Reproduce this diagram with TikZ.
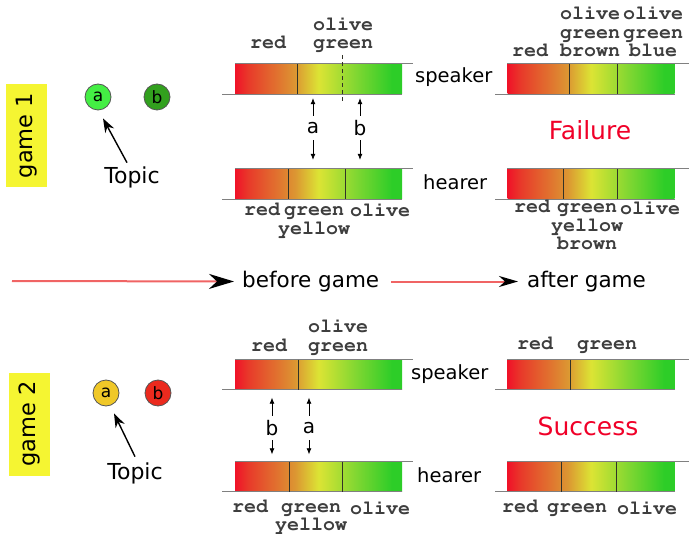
\documentclass[tikz,border=0pt]{standalone}
\usepackage{fontspec}
\usepackage[T1,TU]{fontenc}
\setmainfont{DejaVu Sans}
\usetikzlibrary{arrows.meta}
\newcommand\courierface{\fontencoding{T1}\fontfamily{pcr}\fontseries{b}\selectfont}
\definecolor{spRed}{RGB}{240,18,40}
\definecolor{spRedB}{RGB}{232,58,42}
\definecolor{spOrange}{RGB}{220,150,50}
\definecolor{spYellow}{RGB}{220,228,52}
\definecolor{spLime}{RGB}{130,215,50}
\definecolor{spGreen}{RGB}{45,205,40}
\definecolor{rimgray}{RGB}{128,128,128}
\definecolor{cutgray}{RGB}{50,50,40}
\definecolor{verdictred}{RGB}{240,0,40}
\definecolor{gameyellow}{RGB}{245,245,50}
\definecolor{objgray}{RGB}{85,85,85}
\definecolor{objLime}{RGB}{68,238,68}
\definecolor{objGreen}{RGB}{50,160,30}
\definecolor{objGold}{RGB}{240,200,40}
\definecolor{objRed}{RGB}{235,42,30}
\definecolor{lineRed}{RGB}{240,100,100}
\definecolor{wordgray}{RGB}{62,62,62}
\pgfdeclarehorizontalshading{spectrum}{100bp}{color(0bp)=(spRed); color(25bp)=(spRed);
  color(29bp)=(spRedB); color(43bp)=(spOrange); color(50bp)=(spYellow);
  color(61bp)=(spLime); color(72bp)=(spGreen); color(100bp)=(spGreen)}

\begin{document}
\begin{tikzpicture}[x=1pt, y=-1pt,
    bar/.style={rectangle, shade, shading=spectrum, minimum width=167pt, minimum height=30pt, inner sep=0pt},
    rim/.style={draw=rimgray, line width=1.2pt},
    cut/.style={draw=cutgray, line width=0.9pt},
    word/.style={font=\courierface\fontsize{20}{18.5}\selectfont, text=wordgray, align=center, inner sep=0pt, anchor=base},
    role/.style={font=\fontsize{19.5}{22}\selectfont, inner sep=0pt, anchor=base west},
    verdict/.style={font=\fontsize{25}{28}\selectfont, text=verdictred},
    gamebox/.style={rectangle, fill=gameyellow, rotate=90, minimum width=103pt, minimum height=41pt, inner sep=0pt, font=\fontsize{22.5}{26}\selectfont},
    obj/.style={circle, draw=objgray, line width=0.8pt, minimum size=26pt, inner sep=0pt, font=\fontsize{17}{20}\selectfont},
    topic/.style={font=\fontsize{22}{26}\selectfont, inner sep=0pt},
    pointer/.style={-{Stealth[length=14pt,width=10pt]}, line width=1.4pt},
    pick/.style={-{Latex[length=6pt,width=5pt]}, line width=0.7pt},
    pickname/.style={font=\fontsize{20}{22}\selectfont, minimum height=24pt, inner sep=0pt},
    timeline/.style={draw=lineRed, line width=2pt},
    stage/.style={font=\fontsize{21.5}{24}\selectfont, inner sep=0pt, anchor=west}
]
    \useasboundingbox (0,0) rectangle (695,534);

    % Game 1: objects and topic
    \node[gamebox] (game1) at (26.5,135.5) {game 1};
    \node[obj, fill=objLime] (ca1) at (98,97) {a};
    \node[obj, fill=objGreen] (cb1) at (157,97) {b};
    \node[topic] (topic1) at (132,177) {Topic};
    \draw[pointer] ([xshift=-5pt,yshift=3.5pt]topic1.north) -- ([xshift=5pt,yshift=-8pt]ca1.south);

    % Game 1: bars
    \node[bar] (spk1pre) at (318.5,79) {};
    \node[bar] (hr1pre) at (318.5,184) {};
    \node[bar] (spk1post) at (591,79) {};
    \node[bar] (hr1post) at (591,184) {};
    \draw[rim] (spk1pre.north west) -- ++(178,0);
    \draw[rim] (spk1pre.south east) -- ++(-180,0);
    \draw[rim] (hr1pre.north west) -- ++(178,0);
    \draw[rim] (hr1pre.south east) -- ++(-180,0);
    \draw[rim] (spk1post.north west) -- ++(182,0);
    \draw[rim] (spk1post.south east) -- ++(-180,0);
    \draw[rim] (hr1post.north west) -- ++(182,0);
    \draw[rim] (hr1post.south east) -- ++(-180,0);
    \draw[cut] (297,64) -- (297,94);
    \draw[cut, dash pattern=on 4pt off 3pt] (342,55) -- (342,103);
    \draw[cut] (288,169) -- (288,199);
    \draw[cut] (345,169) -- (345,199);
    \draw[cut] (569,64) -- (569,94);
    \draw[cut] (617,64) -- (617,94);
    \draw[cut] (563,169) -- (563,199);
    \draw[cut] (617,169) -- (617,199);

    % Game 1: colour words (base = last line)
    \node[word] (w1) at (268,49) {red};
    \node[word] (w2) at (343,49) {olive\\green};
    \node[word] (w3) at (262,216) {red};
    \node[word] (w4) at (314,234.5) {green\\yellow};
    \node[word] (w5) at (380,217) {olive};
    \node[word] (w6) at (530,57) {red};
    \node[word] (w7) at (590,57) {olive\\green\\brown};
    \node[word] (w8) at (653,57) {olive\\green\\blue};
    \node[word] (w9) at (532,213) {red};
    \node[word] (w10) at (587,250) {green\\yellow\\brown};
    \node[word] (w11) at (650,215) {olive};

    \node[role] (spk1) at (415,83) {speaker};
    \node[role] (hr1) at (423,190) {hearer};
    \node[verdict] (fail) at (590,130) {Failure};

    % Game 1: pointing
    \node[pickname] (pa1) at (313,128) {a};
    \node[pickname] (pb1) at (360,128) {b};
    \draw[pick, shorten >=4pt] (pa1.north) -- (pa1.north |- spk1pre.south);
    \draw[pick, shorten >=9pt] (pa1.south) -- (pa1.south |- hr1pre.north);
    \draw[pick, shorten >=4pt] (pb1.north) -- (pb1.north |- spk1pre.south);
    \draw[pick, shorten >=9pt] (pb1.south) -- (pb1.south |- hr1pre.north);

    % Time line
    \coordinate (t0) at (12,281);
    \node[stage] (before) at (242,281.5) {before game};
    \node[stage] (after) at (527,281.5) {after game};
    \draw[timeline, -{Stealth[length=25pt,width=15pt,inset=8pt,color=black]}, shorten >=8pt] (t0) -- (before.west);
    \draw[timeline, -{Stealth[length=19pt,width=11pt,inset=6pt,color=black]}, shorten <=12pt, shorten >=9pt] (before.east) -- (after.west);

    % Game 2: objects and topic
    \node[gamebox] (game2) at (29,424) {game 2};
    \node[obj, fill=objGold] (ca2) at (106,393) {a};
    \node[obj, fill=objRed] (cb2) at (158,393) {b};
    \node[topic] (topic2) at (135,473) {Topic};
    \draw[pointer] ([yshift=5.5pt]topic2.north) -- ([xshift=8pt,yshift=-7pt]ca2.south);

    % Game 2: bars
    \node[bar] (spk2pre) at (318.5,374.5) {};
    \node[bar] (hr2pre) at (318.5,476.5) {};
    \node[bar] (spk2post) at (591,374.5) {};
    \node[bar] (hr2post) at (591,476.5) {};
    \draw[rim] (spk2pre.north west) -- ++(178,0);
    \draw[rim] (spk2pre.south east) -- ++(-180,0);
    \draw[rim] (hr2pre.north west) -- ++(178,0);
    \draw[rim] (hr2pre.south east) -- ++(-180,0);
    \draw[rim] (spk2post.north west) -- ++(182,0);
    \draw[rim] (spk2post.south east) -- ++(-180,0);
    \draw[rim] (hr2post.north west) -- ++(182,0);
    \draw[rim] (hr2post.south east) -- ++(-180,0);
    \draw[cut] (298,359.5) -- (298,389.5);
    \draw[cut] (289,461.5) -- (289,491.5);
    \draw[cut] (342,461.5) -- (342,491.5);
    \draw[cut] (570,359.5) -- (570,389.5);
    \draw[cut] (561,461.5) -- (561,491.5);
    \draw[cut] (616,461.5) -- (616,491.5);

    % Game 2: colour words
    \node[word] (v1) at (269,351) {red};
    \node[word] (v2) at (338,351) {olive\\green};
    \node[word] (v3) at (250,512) {red};
    \node[word] (v4) at (311,530.5) {green\\yellow};
    \node[word] (v5) at (380,514) {olive};
    \node[word] (v6) at (535,349) {red};
    \node[word] (v7) at (607,349) {green};
    \node[word] (v8) at (520,512) {red};
    \node[word] (v9) at (577,512) {green};
    \node[word] (v10) at (647,514) {olive};

    \node[role] (spk2) at (411,379) {speaker};
    \node[role] (hr2) at (417,482) {hearer};
    \node[verdict] (win) at (588,426) {Success};

    % Game 2: pointing
    \node[pickname] (pb2) at (272,428) {b};
    \node[pickname] (pa2) at (309,428) {a};
    \draw[pick, shorten >=8pt] (pb2.north) -- (pb2.north |- spk2pre.south);
    \draw[pick, shorten >=7pt] (pb2.south) -- (pb2.south |- hr2pre.north);
    \draw[pick, shorten >=8pt] (pa2.north) -- (pa2.north |- spk2pre.south);
    \draw[pick, shorten >=7pt] (pa2.south) -- (pa2.south |- hr2pre.north);
\end{tikzpicture}
\end{document}
